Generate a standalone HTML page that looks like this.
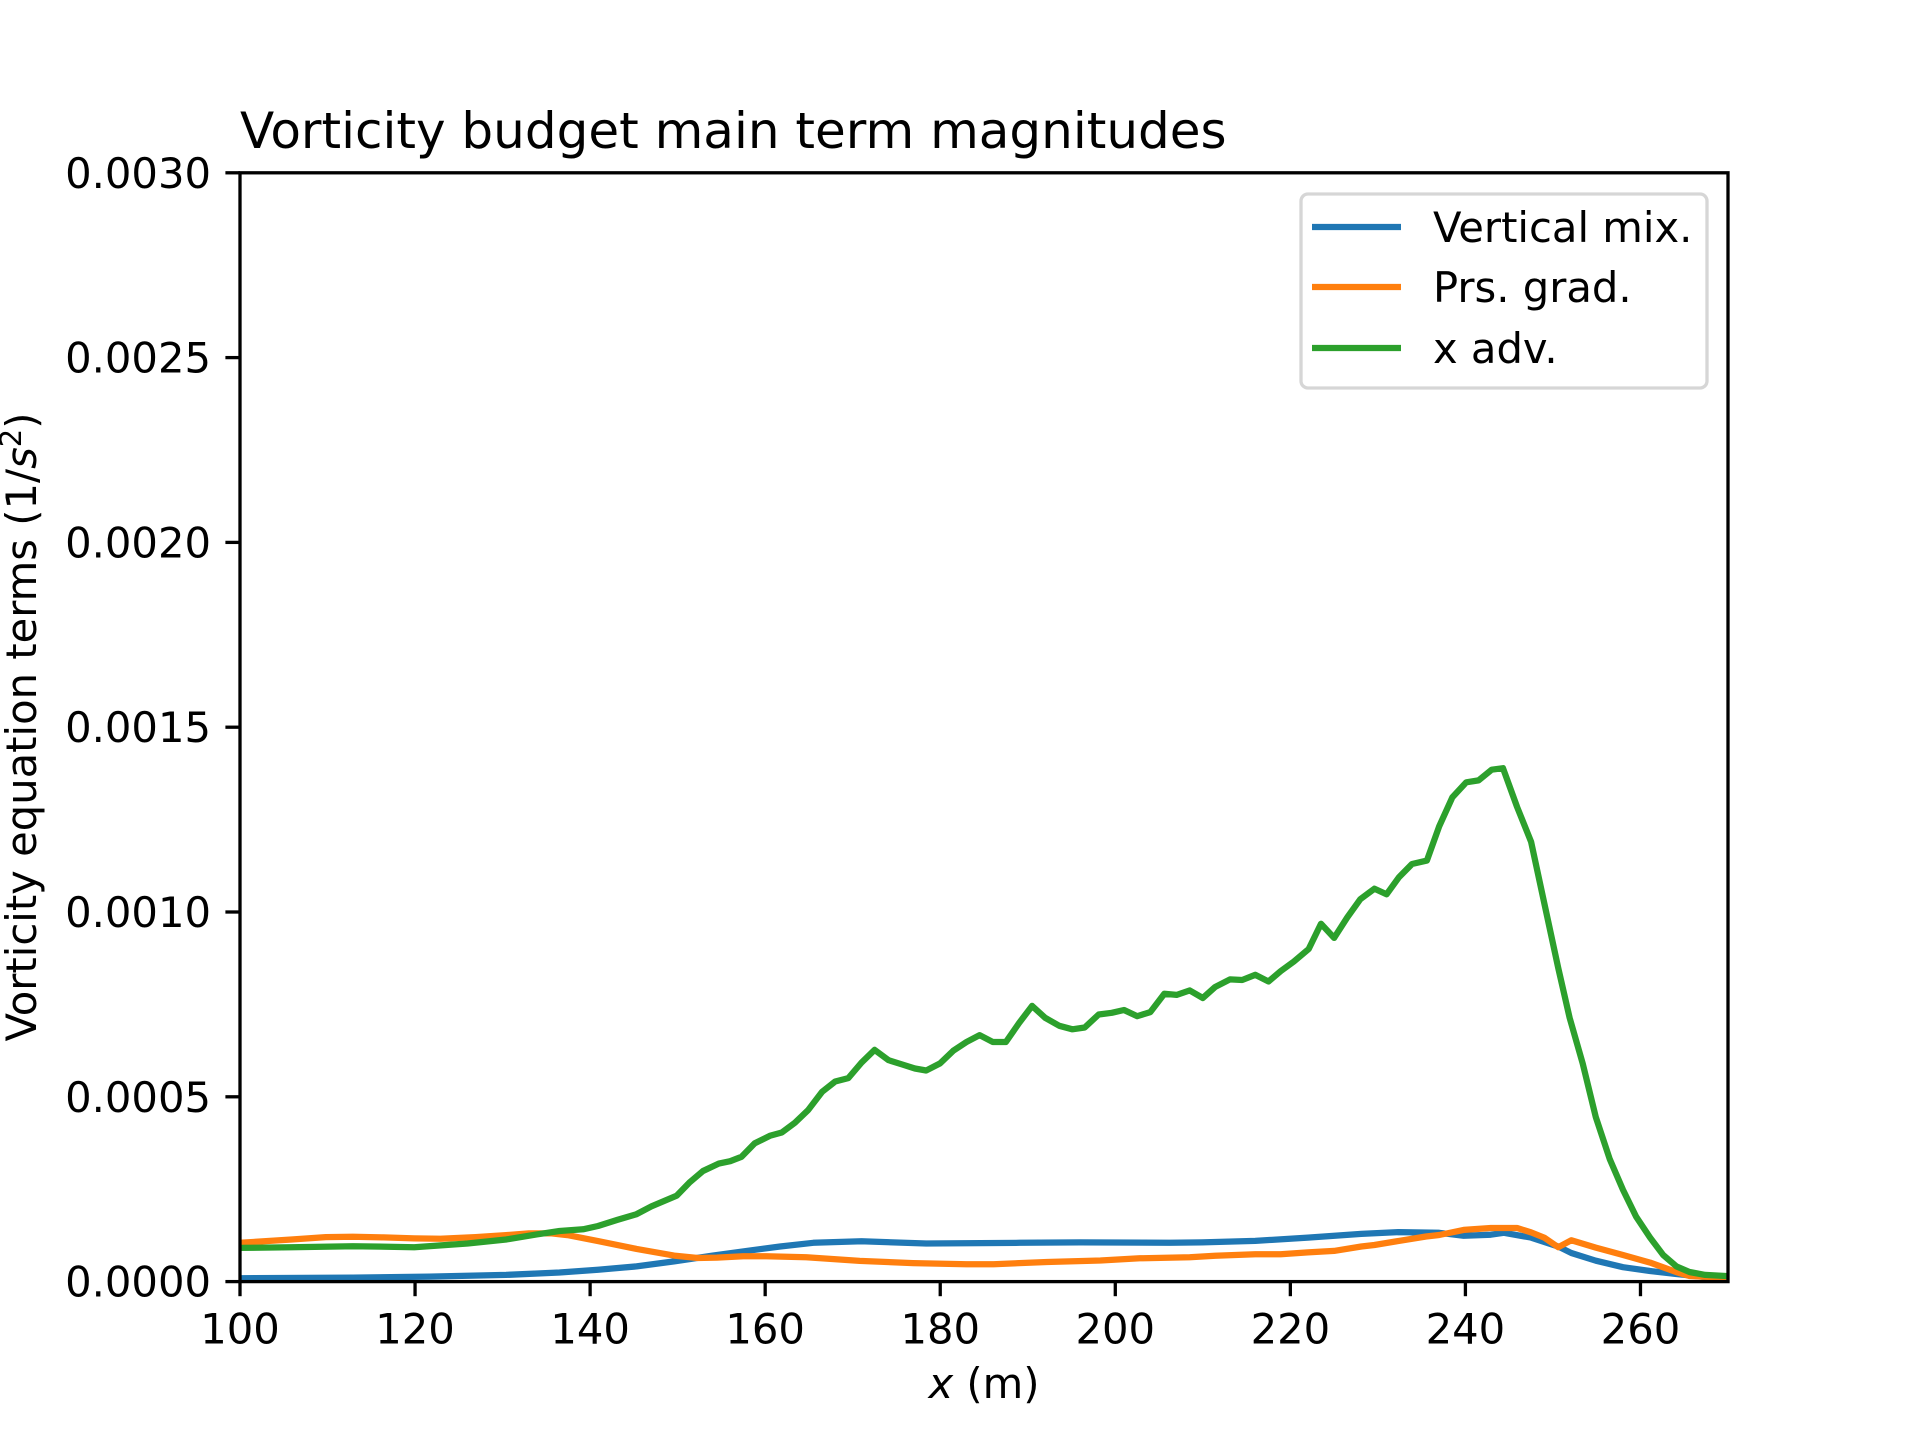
<!DOCTYPE html>
<html><head><meta charset="utf-8"><title>Vorticity budget main term magnitudes</title>
<style>
html,body{margin:0;padding:0;background:#fff;}
svg{display:block;}
text{font-family:"DejaVu Sans","Liberation Sans",sans-serif;fill:#000;}
</style></head>
<body>
<svg id="chart" width="1920" height="1440" viewBox="0 0 1920 1440" xmlns="http://www.w3.org/2000/svg">
<rect width="1920" height="1440" fill="#fff"/>
<text x="240" y="148" font-size="50">Vorticity budget main term magnitudes</text>
<g id="lines"></g>
<g id="axes"></g>
<text x="984" y="1398" font-size="41.7" text-anchor="middle"><tspan font-style="italic">x</tspan> (m)</text>
<text transform="translate(36,727) rotate(-90)" font-size="41.7" text-anchor="middle">Vorticity equation terms (1/<tspan font-style="italic">s</tspan><tspan font-size="29" dy="-15">2</tspan><tspan dy="15">)</tspan></text>
<g>
<rect x="1301" y="194" width="406" height="194" rx="7" fill="#fff" fill-opacity="0.8" stroke="#d6d6d6" stroke-width="3.3"/>
<line x1="1312" y1="227" x2="1401" y2="227" stroke="#1f77b4" stroke-width="6.25"/>
<text x="1433" y="242" font-size="41.7">Vertical mix.</text>
<line x1="1312" y1="287" x2="1401" y2="287" stroke="#ff7f0e" stroke-width="6.25"/>
<text x="1433" y="302" font-size="41.7">Prs. grad.</text>
<line x1="1312" y1="348" x2="1401" y2="348" stroke="#2ca02c" stroke-width="6.25"/>
<text x="1433" y="363" font-size="41.7">x adv.</text>
</g>
</svg>
<script>
const xTicks = [100,120,140,160,180,200,220,240,260];
const yTicks = [0,0.0005,0.001,0.0015,0.002,0.0025,0.003];
const yTickLabels = ["0.0000","0.0005","0.0010","0.0015","0.0020","0.0025","0.0030"];

const blueX = [100,112.9,121.6,130.4,136.5,140.9,145.3,149.6,154.0,158.4,161.7,165.5,171.0,178.4,189.1,196.0,206.2,209.9,216,222,228.1,232.4,237,239.8,242.9,244.4,247.5,250.6,252.1,254.9,258,261.1,264.1,267.0,270];
const blueY = [0.091,0.108,0.136,0.181,0.245,0.319,0.411,0.547,0.703,0.847,0.95,1.05,1.09,1.03,1.05,1.06,1.05,1.06,1.10,1.19,1.29,1.34,1.32,1.24,1.27,1.32,1.19,0.95,0.774,0.566,0.39,0.287,0.206,0.133,0.106];

const orangeX = [100,105.9,109.8,112.9,116.4,119.9,122.9,126.9,130.4,133.0,135.6,137.4,140.9,145.3,149.6,152.3,154.5,157.5,160.1,164.7,170.8,176.9,183.0,186.1,192.2,198.3,202.8,208.5,211.4,216.0,218.9,222.0,225.0,228.1,229.6,232.4,235.5,237.0,239.8,242.9,245.9,247.5,249.0,250.6,252.1,254.9,258.0,261.1,264.1,265.6,270];
const orangeY = [1.050,1.139,1.204,1.212,1.196,1.169,1.158,1.204,1.258,1.304,1.304,1.258,1.096,0.885,0.703,0.639,0.648,0.684,0.684,0.66,0.56,0.50,0.47,0.47,0.53,0.57,0.63,0.66,0.70,0.74,0.74,0.79,0.83,0.95,0.99,1.10,1.22,1.26,1.40,1.45,1.45,1.33,1.19,0.93,1.12,0.92,0.72,0.514,0.257,0.152,0.1];

const greenX = [100.07,105.9,112.9,119.9,126.0,130.4,133.9,136.5,139.2,140.9,143.1,145.3,147.0,149.9,151.4,152.9,154.7,156.0,157.3,158.8,160.6,161.9,163.4,164.9,166.5,168.0,169.5,171.0,172.5,174.1,175.6,177.1,178.4,180.0,181.5,183.0,184.5,186.0,187.5,189.0,190.5,192.0,193.6,195.1,196.5,198.1,199.6,201.0,202.5,204.0,205.6,207.0,208.5,210.0,211.4,213.1,214.5,216.0,217.5,218.9,220.4,222.1,223.5,225.0,226.5,228.0,229.6,231.0,232.4,233.9,235.6,237.0,238.5,240.1,241.5,243.0,244.3,245.9,247.5,249.0,250.6,251.9,253.4,254.9,256.5,258.0,259.5,261.1,262.6,264.1,265.6,267.4,270];
const greenY = [0.912,0.931,0.958,0.931,1.031,1.139,1.277,1.369,1.415,1.504,1.669,1.824,2.035,2.327,2.692,2.993,3.193,3.258,3.377,3.742,3.950,4.034,4.297,4.640,5.135,5.414,5.506,5.925,6.269,5.990,5.879,5.766,5.712,5.906,6.250,6.483,6.669,6.483,6.483,6.994,7.459,7.135,6.921,6.826,6.875,7.227,7.273,7.348,7.181,7.292,7.787,7.757,7.879,7.673,7.971,8.177,8.16,8.30,8.12,8.40,8.66,9.00,9.68,9.30,9.85,10.35,10.63,10.48,10.94,11.30,11.39,12.32,13.10,13.51,13.56,13.85,13.89,12.84,11.90,10.25,8.49,7.14,5.90,4.45,3.31,2.48,1.76,1.19,0.72,0.41,0.26,0.18,0.15];

const L=240,R=1728,T=172.8,B=1281.6;
const xMin=100,xMax=270,yMin=0,yMax=0.003;
function xs(v){return L+(v-xMin)/(xMax-xMin)*(R-L);}
function ys(v){return B-(v-yMin)/(yMax-yMin)*(B-T);}
const NS='http://www.w3.org/2000/svg';
const linesG=document.getElementById('lines');
const axesG=document.getElementById('axes');

function drawSeries(xsArr,ysArr,color,name){
  const p=document.createElementNS(NS,'polyline');
  p.setAttribute('points',xsArr.map((x,i)=>xs(x).toFixed(1)+','+ys(ysArr[i]*1e-4).toFixed(1)).join(' '));
  p.setAttribute('fill','none');
  p.setAttribute('stroke',color);
  p.setAttribute('stroke-width','6.25');
  p.setAttribute('stroke-linejoin','round');
  p.setAttribute('stroke-linecap','square');
  
  
  linesG.appendChild(p);
}
const cp=document.createElementNS(NS,'clipPath');cp.id='clip';
const cr=document.createElementNS(NS,'rect');cr.setAttribute('x',L);cr.setAttribute('y',T);cr.setAttribute('width',R-L);cr.setAttribute('height',B-T);
cp.appendChild(cr);document.getElementById('chart').appendChild(cp);
linesG.setAttribute('clip-path','url(#clip)');
drawSeries(blueX,blueY,'#1f77b4','vertical-mix-line');
drawSeries(orangeX,orangeY,'#ff7f0e','prs-grad-line');
drawSeries(greenX,greenY,'#2ca02c','x-adv-line');

const frame=document.createElementNS(NS,'rect');
frame.setAttribute('x',L);frame.setAttribute('y',T);frame.setAttribute('width',R-L);frame.setAttribute('height',B-T);
frame.setAttribute('fill','none');frame.setAttribute('stroke','#000');frame.setAttribute('stroke-width','3.3');


axesG.appendChild(frame);

xTicks.forEach(v=>{
  const x=xs(v);
  const t=document.createElementNS(NS,'line');
  t.setAttribute('x1',x);t.setAttribute('x2',x);t.setAttribute('y1',B);t.setAttribute('y2',B+14.6);
  t.setAttribute('stroke','#000');t.setAttribute('stroke-width','3.3');
  
  
  axesG.appendChild(t);
  const l=document.createElementNS(NS,'text');
  l.setAttribute('x',x);l.setAttribute('y',B+62);l.setAttribute('font-size','41.7');l.setAttribute('text-anchor','middle');
  l.textContent=String(v);
  
  
  axesG.appendChild(l);
});
yTicks.forEach((v,i)=>{
  const y=ys(v);
  const t=document.createElementNS(NS,'line');
  t.setAttribute('x1',L-14.6);t.setAttribute('x2',L);t.setAttribute('y1',y);t.setAttribute('y2',y);
  t.setAttribute('stroke','#000');t.setAttribute('stroke-width','3.3');
  
  
  axesG.appendChild(t);
  const l=document.createElementNS(NS,'text');
  l.setAttribute('x',L-29);l.setAttribute('y',y+15);l.setAttribute('font-size','41.7');l.setAttribute('text-anchor','end');
  l.textContent=yTickLabels[i];
  
  
  axesG.appendChild(l);
});
</script>
</body></html>
